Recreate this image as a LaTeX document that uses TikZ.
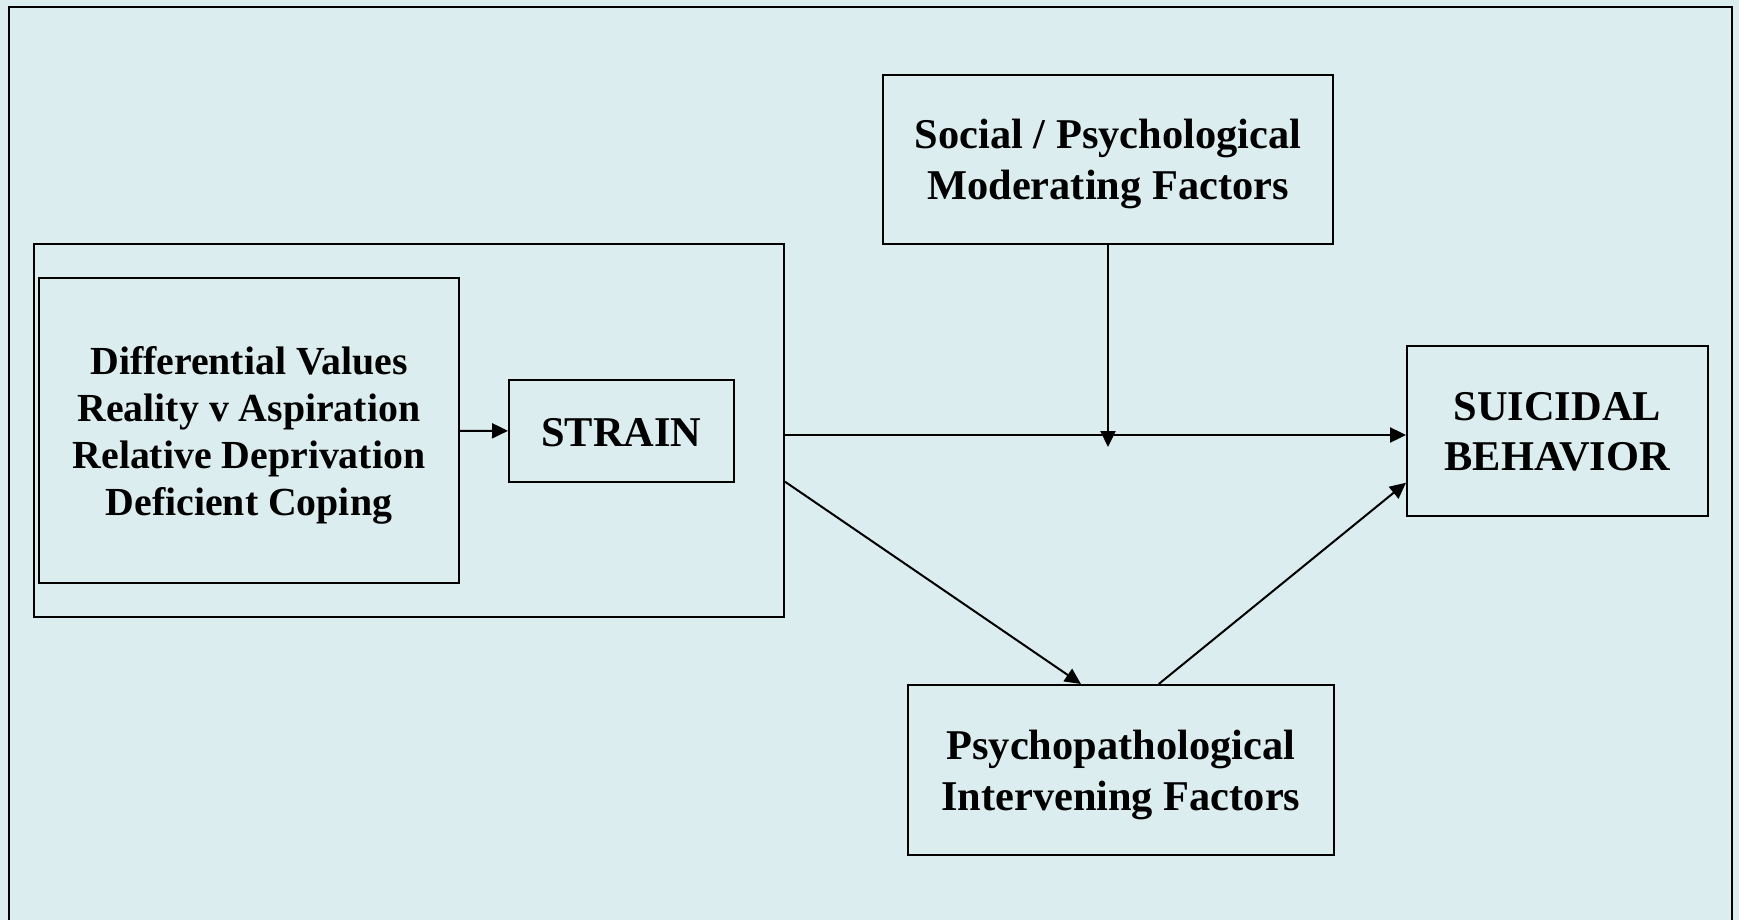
\documentclass[tikz,border=0pt]{standalone}
\usepackage{fontspec}
\setmainfont{Liberation Serif}
\usetikzlibrary{arrows.meta}
\definecolor{bgc}{RGB}{219,237,238}
\newcommand{\topst}[1]{\rule{0pt}{#1}}
\newcommand{\botst}{\rule[-6pt]{0pt}{6pt}}
\tikzset{
  box/.style={draw=black, line width=1pt, rectangle, inner sep=0pt, align=center, font=\bfseries\fontsize{21.2}{25.15}\selectfont},
  smalltext/.style={font=\bfseries\fontsize{19.9}{23.5}\selectfont},
  arr/.style={line width=1pt, -{Triangle[length=8pt,width=7.5pt]}},
  mainarr/.style={line width=1.15pt, -{Triangle[length=8pt,width=7.5pt]}},
}
\begin{document}
\begin{tikzpicture}[x=0.5pt,y=-0.5pt]
\useasboundingbox (0,0) rectangle (1739,920);
\clip (0,0) rectangle (1739,920);
\fill[bgc] (0,0) rectangle (1739,920);
\draw[line width=1.1pt] (9,6.7) rectangle (1732,960);
% nodes
\node[box, minimum width=374.9pt, minimum height=186.5pt] (group) at (409.1,430.5) {};
\node[box, smalltext, minimum width=210.1pt, minimum height=152.5pt] (inner) at (248.9,430.5) {\topst{20pt}Differential Values\\Reality v Aspiration\\Relative Deprivation\\Deficient Coping\botst};
\node[box, minimum width=112.5pt, minimum height=51pt] (strain) at (621.5,431) {\topst{21.7pt}STRAIN\botst};
\node[box, minimum width=225pt, minimum height=84.5pt] (social) at (1108,159.5) {\topst{20.4pt}Social / Psychological\\Moderating Factors\botst};
\node[box, minimum width=150.25pt, minimum height=85pt] (suicidal) at (1557.25,431) {\topst{20.8pt}SUICIDAL\\BEHAVIOR\botst};
\node[box, minimum width=212.75pt, minimum height=85pt] (psycho) at (1120.75,770) {\topst{21pt}Psychopathological\\Intervening Factors\botst};
\coordinate (mod) at (1108,447);
% connectors
\draw[arr] (inner) -- (strain);
\draw[mainarr] ([yshift=-2.25pt]group.east) -- ([yshift=-2.25pt]group.east -| suicidal.west);
\draw[mainarr] (social) -- (mod);
\draw[arr] ([yshift=-25.6pt]group.east) -- ([xshift=-19.9pt]psycho.north);
\draw[arr] ([xshift=19pt]psycho.north) -- ([yshift=-25.85pt]suicidal.west);
\end{tikzpicture}
\end{document}
